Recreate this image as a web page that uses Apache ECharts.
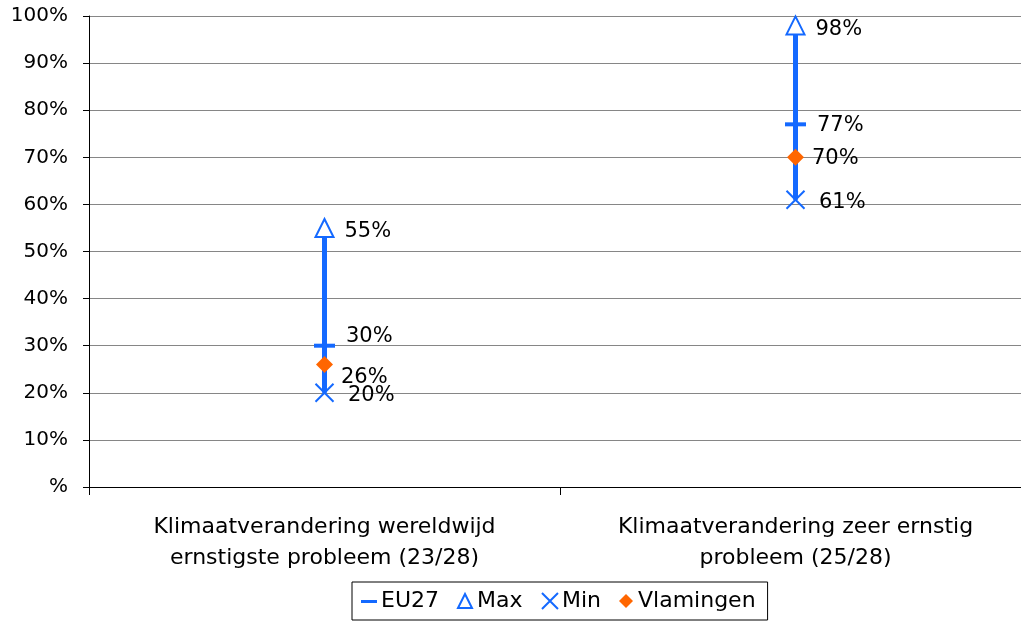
<!DOCTYPE html>
<html>
<head>
<meta charset="utf-8">
<script src="https://cdn.jsdelivr.net/npm/echarts@6/dist/echarts.min.js"></script>
<style>
html, body { margin: 0; padding: 0; background: #fff; overflow: hidden; }
#chart { width: 1031px; height: 621px; }
</style>
</head>
<body>
<div id="chart"></div>
<script>
// klimaatverandering: EU27 vs Vlamingen
var categories = ['Klimaatverandering wereldwijd\nernstigste probleem (23/28)', 'Klimaatverandering zeer ernstig\nprobleem (25/28)']
var eu27 = [30, 77]
var maxVals = [55, 98]
var minVals = [20, 61]
var vlamingen = [26, 70]

var blue = '#1469ff'
var orange = '#ff6600'
var font = 'DejaVu Sans'

var labelBase = {
    show: true,
    position: 'right',
    color: '#000',
    fontFamily: font,
    fontSize: 21,
    formatter: '{c}%'
}

var myChart = echarts.init(document.getElementById('chart'))
myChart.setOption({
    animation: false,
    textStyle: { fontFamily: font },
    grid: {
        left: 89,
        right: 0,
        top: 16,
        bottom: 134,
        containLabel: false
    },
    legend: {
        bottom: 1,
        left: 352,
        padding: [8, 12, 8, 9],
        borderColor: '#000',
        borderWidth: 1,
        itemGap: 17,
        itemWidth: 16,
        itemHeight: 16,
        textStyle: { fontSize: 22, color: '#000', fontFamily: font, padding: [0, 0, 0, -1] },
        data: [
            { name: 'EU27', icon: 'path://M0,0M16,16M0,7L16,7L16,10L0,10Z' },
            { name: 'Max', icon: 'path://M0,0M16,16M8,1L15,15L1,15Z' },
            { name: 'Min', icon: 'path://M1,1L15,15M15,1L1,15' },
            { name: 'Vlamingen', icon: 'path://M0,0M16,16M8,1L15,8L8,15L1,8Z' }
        ]
    },
    xAxis: {
        type: 'category',
        data: categories,
        boundaryGap: true,
        axisLine: { lineStyle: { color: '#000', width: 1 } },
        axisTick: { show: true, length: 8, lineStyle: { color: '#000' } },
        axisLabel: {
            color: '#000',
            fontSize: 22,
            lineHeight: 31,
            margin: 25,
            fontFamily: font
        }
    },
    yAxis: {
        type: 'value',
        min: 0,
        max: 100,
        interval: 10,
        axisLine: { show: true, lineStyle: { color: '#000' } },
        axisTick: { show: true, length: 6, lineStyle: { color: '#000' } },
        splitLine: { lineStyle: { color: '#868686', width: 1 } },
        axisLabel: {
            color: '#000',
            fontSize: 20,
            margin: 21,
            fontFamily: font,
            formatter: function (v) { return v === 0 ? '%' : v + '%' }
        }
    },
    series: [
        {
            name: 'range',
            type: 'custom',
            silent: true,
            data: categories.map(function (c, i) { return [i, minVals[i], maxVals[i]] }),
            renderItem: function (params, api) {
                var lo = api.coord([api.value(0), api.value(1)])
                var hi = api.coord([api.value(0), api.value(2)])
                return {
                    type: 'line',
                    shape: { x1: lo[0], y1: lo[1], x2: hi[0], y2: hi[1] },
                    style: { stroke: blue, lineWidth: 5 }
                }
            },
            z: 1
        },
        {
            name: 'EU27',
            type: 'scatter',
            symbol: 'rect',
            symbolSize: [21, 4],
            itemStyle: { color: blue, opacity: 1 },
            data: eu27.map(function (v, i) {
                return { value: v, label: { offset: i === 0 ? [0, -9] : [0, 1] } }
            }),
            label: Object.assign({}, labelBase, { distance: 11 }),
            z: 3
        },
        {
            name: 'Max',
            type: 'scatter',
            symbol: 'triangle',
            symbolSize: [18, 18],
            itemStyle: { color: '#fff', borderColor: blue, borderWidth: 2, opacity: 1 },
            data: maxVals,
            label: Object.assign({}, labelBase, { distance: 10, offset: [0, 4] }),
            z: 3
        },
        {
            name: 'Min',
            type: 'scatter',
            symbol: 'path://M0,0L20,20M20,0L0,20',
            symbolSize: 18,
            itemStyle: { color: 'none', borderColor: blue, borderWidth: 2, opacity: 1 },
            data: minVals,
            label: Object.assign({}, labelBase, { distance: 12, offset: [0, 3] }),
            z: 3
        },
        {
            name: 'Vlamingen',
            type: 'scatter',
            symbol: 'diamond',
            symbolSize: 17,
            itemStyle: { color: orange, opacity: 1 },
            data: vlamingen.map(function (v, i) {
                return { value: v, label: { offset: i === 0 ? [0, 13] : [0, 1] } }
            }),
            label: Object.assign({}, labelBase, { distance: 8 }),
            z: 4
        }
    ]
})
</script>
</body>
</html>
